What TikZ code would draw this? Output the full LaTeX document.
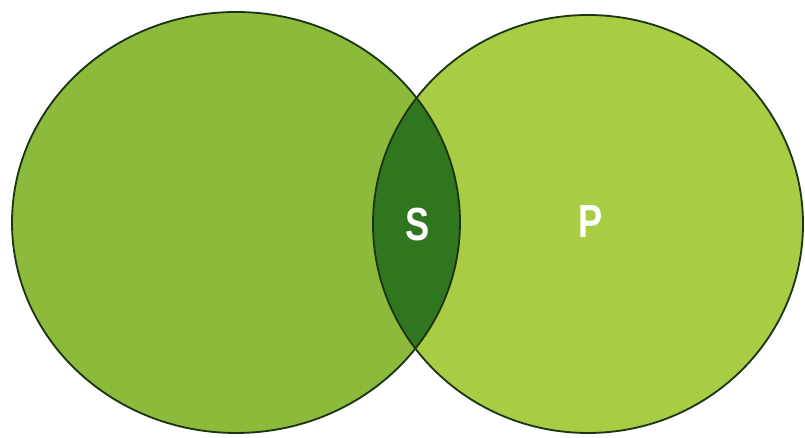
\documentclass[tikz,border=0pt]{standalone}
\usepackage{fontspec}
\setsansfont{Liberation Sans}
\usetikzlibrary{calc}
\definecolor{leftgreen}{RGB}{140,186,58}
\definecolor{rightgreen}{RGB}{168,204,68}
\definecolor{lensgreen}{RGB}{48,118,30}
\definecolor{rimgreen}{RGB}{28,52,18}
\tikzset{
    rim/.style={draw=rimgreen, line width=1.3pt},
    setlabel/.style={text=white, font=\sffamily\bfseries\fontsize{33}{33}\selectfont, xscale=0.78, inner sep=0pt}
}
\begin{document}
\begin{tikzpicture}[x=0.025cm,y=0.025cm]
        \useasboundingbox[fill=white](0,0)rectangle(805,438);
        % centres
        \coordinate(L)at(236,215.5);
        \coordinate(R)at(588,214);
        % circles
        \path[fill=leftgreen](L)ellipse[x radius=224, y radius=210.5];
        \path[fill=rightgreen](R)ellipse[x radius=215, y radius=209];
        % common part
        \begin{scope}
            \clip(L)ellipse[x radius=224, y radius=210.5];
            \path[fill=lensgreen](R)ellipse[x radius=215, y radius=209];
        \end{scope}
        \path[rim](L)ellipse[x radius=224, y radius=210.5];
        \path[rim](R)ellipse[x radius=215, y radius=209];
        % labels
        \node[setlabel](S)at(418,213){S};
        \node[setlabel](P)at(591,216){P};
    \end{tikzpicture}
\end{document}
